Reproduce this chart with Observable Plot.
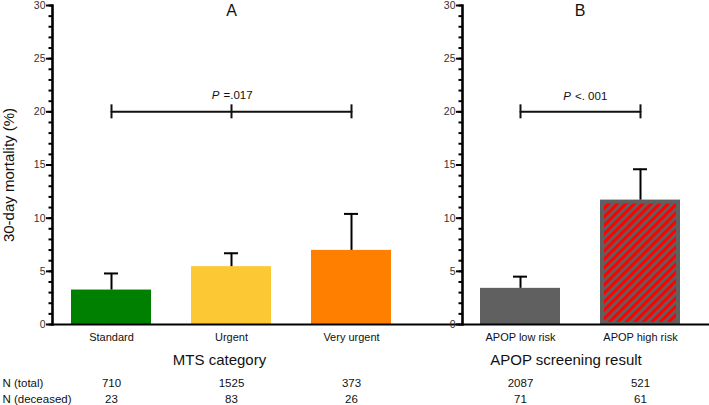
<!DOCTYPE html>
<html><head><meta charset="utf-8">
<script src="https://cdn.jsdelivr.net/npm/d3@7"></script>
<script src="https://cdn.jsdelivr.net/npm/@observablehq/plot@0.6"></script>
<style>
body{margin:0;background:#fff;}
#wrap{position:relative;width:709px;height:405px;overflow:hidden;background:#fff;}
#wrap svg{position:absolute;top:0;}
</style></head><body><div id="wrap"></div>
<script>
// ---- data ----
const mtsCategories = ["Standard", "Urgent", "Very urgent"];
const mtsMortality = [3.24, 5.44, 6.97];
const mtsUpper = [4.8, 6.7, 10.4];
const mtsTotal = [710, 1525, 373];
const mtsDeceased = [23, 83, 26];
const mtsColors = ["#008000", "#fcc935", "#ff8000"];

const apopCategories = ["APOP low risk", "APOP high risk"];
const apopMortality = [3.40, 11.7];
const apopUpper = [4.5, 14.6];
const apopTotal = [2087, 521];
const apopDeceased = [71, 61];
const apopFills = ["#606060", "#606060"];

const panelLabels = ["A", "B"];
const axisTitles = ["MTS category", "APOP screening result"];
const pSymbol = "P";
const pValues = ["=.017", "<. 001"];
const rowLabels = ["N (total)", "N (deceased)"];
const yTitle = "30-day mortality (%)";
const bracketLevel = 20;
const yMajor = [0, 5, 10, 15, 20, 25, 30];
const yMinor = [0,1,2,3,4,5,6,7,8,9,10,11,12,13,14,15,16,17,18,19,20,21,22,23,24,25,26,27,28,29,30];

const FONT = "Liberation Sans, Arial, Helvetica, sans-serif";

function rows(cats, vals, upper, total, dec, colors) {
  return cats.map((c, i) => ({cat: c, val: vals[i], upper: upper[i], total: total[i], dec: dec[i], color: colors[i]}));
}

function panel(o) {
  const data = rows(o.cats, o.vals, o.upper, o.total, o.dec, o.colors);
  const frameW = o.width - o.marginLeft - o.marginRight;
  const marks = [
    Plot.barY(data, {x: "cat", y: "val", fill: "color"}),
  ];
  if (o.hatchIndex != null) {
    marks.push(Plot.barY([data[o.hatchIndex]], {x: "cat", y: "val", fill: "url(#hatch)", insetLeft: 4, insetRight: 4, insetTop: 4, insetBottom: 2}));
  }
  marks.push(
    // error bars
    Plot.ruleX(data, {x: "cat", y1: "val", y2: "upper", stroke: "#000", strokeWidth: 2}),
    Plot.tickY(data, {x: "cat", y: "upper", insetLeft: 33, insetRight: 33, stroke: "#000", strokeWidth: 2}),
    // significance bracket
    Plot.lineY(data, {x: "cat", y: () => bracketLevel, stroke: "#111", strokeWidth: 2}),
    Plot.ruleX(o.bracketTicks, {x: d => d, y1: () => bracketLevel, y2: () => bracketLevel, insetTop: 7, insetBottom: 7, stroke: "#111", strokeWidth: 2}),
    // y axis ticks, labels, line
    Plot.ruleY(yMinor, {y: d => d, insetLeft: -3.5, insetRight: frameW, stroke: "#000", strokeWidth: 2}),
    Plot.ruleY(yMajor, {y: d => d, insetLeft: -6, insetRight: frameW, stroke: "#000", strokeWidth: 2}),
    Plot.text(yMajor, {y: d => d, text: d => String(d), frameAnchor: "left", dx: -7, textAnchor: "end", fontSize: 10.5, fill: "#333"}),
    Plot.ruleY([0], {stroke: "#000", strokeWidth: 2.2}),
    Plot.frame({anchor: "left", stroke: "#000", strokeWidth: 2.6}),
    // category labels
    Plot.text(data, {x: "cat", text: "cat", frameAnchor: "bottom", dy: 16, lineAnchor: "bottom", fontSize: 11, fill: "#111"}),
    // N rows
    Plot.text(data, {x: "cat", text: d => String(d.total), frameAnchor: "bottom", dy: 62, lineAnchor: "bottom", fontSize: 11.5, fill: "#111"}),
    Plot.text(data, {x: "cat", text: d => String(d.dec), frameAnchor: "bottom", dy: 78, lineAnchor: "bottom", fontSize: 11.5, fill: "#111"})
  );
  marks.push(...o.extra(data));
  return Plot.plot({
    width: o.width,
    height: 405,
    marginLeft: o.marginLeft,
    marginRight: o.marginRight,
    marginTop: 5,
    marginBottom: 81,
    style: {fontFamily: FONT, background: "transparent", overflow: "visible"},
    x: {type: "band", domain: o.cats, range: o.xRange, paddingInner: 1/3, paddingOuter: 1/6, axis: null},
    y: {domain: [0, 30], axis: null},
    color: {type: "identity"},
    marks
  });
}

const wrap = document.getElementById("wrap");

// Panel A
const svgA = panel({
  cats: mtsCategories, vals: mtsMortality, upper: mtsUpper, total: mtsTotal, dec: mtsDeceased, colors: mtsColors,
  width: 460, marginLeft: 52, marginRight: 0, xRange: [51, 411],
  bracketTicks: mtsCategories,
  extra: data => [
    Plot.text([panelLabels[0]], {x: () => mtsCategories[1], y: () => 30, dy: 10, lineAnchor: "bottom", fontSize: 16, fill: "#111"}),
    Plot.text([pSymbol], {x: () => mtsCategories[1], y: () => bracketLevel, dx: -12, dy: -13, textAnchor: "end", lineAnchor: "bottom", fontSize: 11.5, fontStyle: "italic", fill: "#111"}),
    Plot.text([pValues[0]], {x: () => mtsCategories[1], y: () => bracketLevel, dx: -8, dy: -13, textAnchor: "start", lineAnchor: "bottom", fontSize: 11.5, fill: "#111"}),
    Plot.text([axisTitles[0]], {x: () => mtsCategories[1], frameAnchor: "bottom", dx: -12, dy: 40, lineAnchor: "bottom", fontSize: 15, fill: "#111"}),
    Plot.text([rowLabels[0]], {frameAnchor: "bottom-left", dx: -50, dy: 62, textAnchor: "start", lineAnchor: "bottom", fontSize: 11.5, fill: "#111"}),
    Plot.text([rowLabels[1]], {frameAnchor: "bottom-left", dx: -50, dy: 78, textAnchor: "start", lineAnchor: "bottom", fontSize: 11.5, fill: "#111"}),
    Plot.text([yTitle], {frameAnchor: "left", rotate: -90, dx: -43, dy: 10, textAnchor: "middle", lineAnchor: "middle", fontSize: 15, fill: "#111"})
  ]
});
svgA.style.left = "0px";
wrap.appendChild(svgA);

// Panel B
const svgB = panel({
  cats: apopCategories, vals: apopMortality, upper: apopUpper, total: apopTotal, dec: apopDeceased, colors: apopFills,
  width: 289, marginLeft: 42, marginRight: 0, xRange: [40, 280],
  bracketTicks: apopCategories, hatchIndex: 1,
  extra: data => [
    Plot.text([panelLabels[1]], {y: () => 30, frameAnchor: "middle", dx: -6, dy: 10, lineAnchor: "bottom", fontSize: 16, fill: "#111"}),
    Plot.text([pSymbol], {y: () => bracketLevel, frameAnchor: "middle", dx: -15, dy: -12, textAnchor: "end", lineAnchor: "bottom", fontSize: 11.5, fontStyle: "italic", fill: "#111"}),
    Plot.text([pValues[1]], {y: () => bracketLevel, frameAnchor: "middle", dx: -11, dy: -12, textAnchor: "start", lineAnchor: "bottom", fontSize: 11.5, fill: "#111"}),
    Plot.text([axisTitles[1]], {frameAnchor: "bottom", dx: -20, dy: 40, lineAnchor: "bottom", fontSize: 15, fill: "#111"})
  ]
});
svgB.style.left = "420px";
const ns = "http://www.w3.org/2000/svg";
const defs = document.createElementNS(ns, "defs");
const pat = document.createElementNS(ns, "pattern");
pat.setAttribute("id", "hatch");
pat.setAttribute("patternUnits", "userSpaceOnUse");
pat.setAttribute("width", "6");
pat.setAttribute("height", "6");
pat.setAttribute("patternTransform", "rotate(45)");
const r1 = document.createElementNS(ns, "rect");
r1.setAttribute("width", "6"); r1.setAttribute("height", "6"); r1.setAttribute("fill", "#606060");
const r2 = document.createElementNS(ns, "rect");
r2.setAttribute("width", "3.2"); r2.setAttribute("height", "6"); r2.setAttribute("fill", "#ff0000");
pat.appendChild(r1); pat.appendChild(r2);
defs.appendChild(pat);
svgB.insertBefore(defs, svgB.firstChild);
wrap.appendChild(svgB);
</script>
</body></html>
